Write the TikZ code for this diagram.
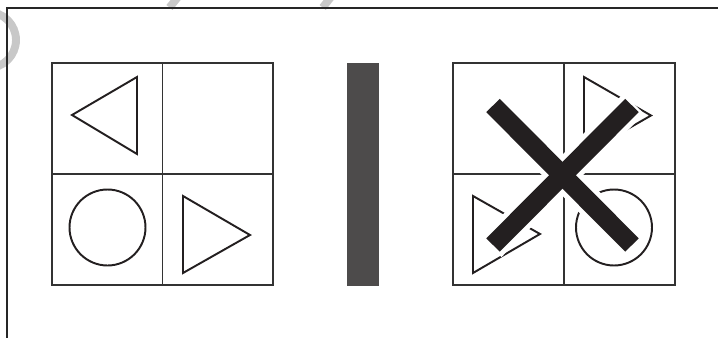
\documentclass[tikz,border=0pt]{standalone}
\usepackage{tikz}
\usetikzlibrary{calc}
\usepackage{xcolor}
\definecolor{inkblack}{HTML}{231F20}
\definecolor{bargray}{HTML}{4D4B4B}
\definecolor{markgray}{HTML}{C8C8C8}

\begin{document}
\begin{tikzpicture}[
  x=0.02cm, y=-0.02cm,
  frameline/.style={line width=0.75pt, black!85},
  gridline/.style={line width=0.6pt, black!80},
  shapeline/.style={line width=1.1pt, inkblack, line join=miter},
  crossgap/.style={line width=16.5pt, white, shorten <=-1.5pt, shorten >=-1.5pt},
  crossbar/.style={line width=10.8pt, inkblack},
  wmark/.style={line width=4.5pt, markgray},
]
  \useasboundingbox (0,0) rectangle (718,338);

  %=================== faint marks behind the frame ===================
  \begin{scope}
    \clip (0,0) rectangle (718,338);
    \draw[wmark] (169.5,7.5) -- (178,-3);
    \draw[wmark] (322.7,7.5) -- (331,-3);
    \draw[wmark] (-12,40) circle[radius=0.56cm];
  \end{scope}

  %=================== frame ===================
  \draw[frameline] (7,338) |- (718,8);

  %=================== left grid ===================
  \draw[gridline] (52,63) rectangle (273,285);
  \draw[gridline] (162.5,63) -- (162.5,285);
  \draw[gridline] (52,174) -- (273,174);

  \draw[shapeline] (72,115) -- (137,77) -- (137,154) -- cycle;
  \draw[shapeline] (107.5,227.5) circle[radius=0.76cm];
  \draw[shapeline] (183,196) -- (250,235) -- (183,273) -- cycle;

  %=================== separator bar ===================
  \fill[bargray] (347,63) rectangle (379,286);

  %=================== right grid ===================
  \draw[gridline] (453,63) rectangle (675,285);
  \draw[gridline] (564,63) -- (564,285);
  \draw[gridline] (453,174) -- (675,174);

  \draw[shapeline] (584,77) -- (651,115.5) -- (584,154) -- cycle;
  \draw[shapeline] (473,196) -- (540,234) -- (473,273) -- cycle;
  \draw[shapeline] (614,227.5) circle[radius=0.76cm];

  % crossing-out mark with white halo
  \coordinate (xa) at (493,105.5);
  \coordinate (xb) at (632,245);
  \coordinate (xc) at (632,105.5);
  \coordinate (xd) at (493,245);
  \draw[crossgap] (xa) -- (xb);
  \draw[crossgap] (xc) -- (xd);
  \draw[crossbar] (xa) -- (xb);
  \draw[crossbar] (xc) -- (xd);
\end{tikzpicture}
\end{document}
